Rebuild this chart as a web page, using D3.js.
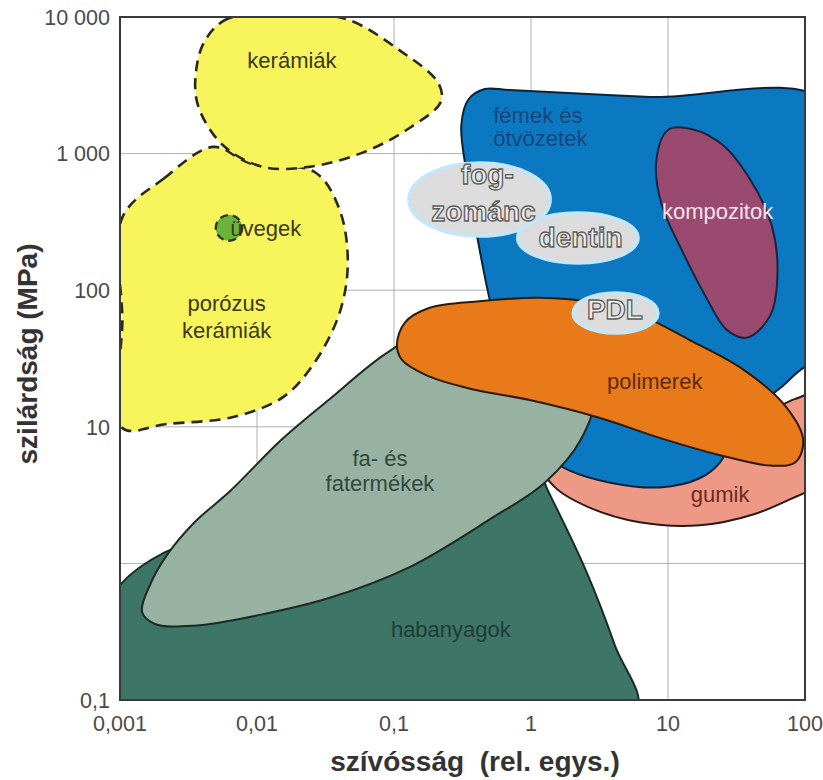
<!DOCTYPE html>
<html>
<head>
<meta charset="utf-8">
<script src="https://cdn.jsdelivr.net/npm/d3@7"></script>
<style>
  body { margin: 0; background: #fff; }
  svg { display: block; }
  text { font-family: "Liberation Sans", Arial, sans-serif; }
</style>
</head>
<body>
<div id="chart"></div>
<script>
//// Ashby-style map: strength vs toughness, log-log
//// every outline is a list of [toughness, strength (MPa)]

const xTicks = [0.001, 0.01, 0.1, 1, 10, 100];
const xTickLabels = ["0,001", "0,01", "0,1", "1", "10", "100"];
const yTicks = [10000, 1000, 100, 10, 0.1];
const yTickLabels = ["10 000", "1 000", "100", "10", "0,1"];
const gridX = [0.01, 0.1, 1, 10];
const gridY = [1000, 100, 10, 1];

const habanyagok = [[0.00085, 0.085], [0.00085, 0.54], [0.0021, 1.2], [0.0054, 1.5], [0.021, 2.9],
  [0.26, 8], [1.07, 5.2], [1.33, 3.4], [2.5, 0.9], [4.1, 0.25], [5.8, 0.082]];
const gumik = [[1.16, 5.5], [1.5, 3.6], [2.7, 2.55], [6.2, 2.0], [17, 1.9], [43, 2.3], [100, 3.3],
  [150, 3.9], [150, 18], [85, 16], [47, 12], [14.5, 8], [3.8, 6.5], [1.6, 7.4]];
const femek = [[0.31, 1620], [0.35, 2500], [0.46, 2970], [0.7, 2920], [7.4, 2600], [150, 2300],
  [150, 30], [100, 27.4], [66, 19.2], [34, 11.2], [24, 5.5], [17, 4.2], [8.7, 3.6], [3.8, 3.9],
  [1.9, 4.8], [1.26, 6.2], [0.9, 11], [0.65, 31], [0.5, 85], [0.41, 230], [0.34, 700]];
const fa = [[0.00145, 0.44], [0.00166, 0.7], [0.0022, 1.15], [0.0035, 2.0], [0.0064, 3.4], [0.015, 8],
  [0.034, 16], [0.086, 34], [0.18, 51], [0.6, 55], [1.9, 34], [2.9, 17], [2.3, 8], [1.26, 3.9],
  [0.5, 2.1], [0.13, 0.94], [0.034, 0.56], [0.0105, 0.42], [0.0035, 0.35], [0.0018, 0.36]];
const kompozitok = [[10, 1490], [15, 1510], [25, 1160], [40, 640], [57, 300], [63, 140], [56, 66],
  [38, 45], [27, 51], [18.6, 92], [12.6, 197], [9, 420], [8.2, 870]];
const polimerek = [[0.105, 40], [0.12, 58], [0.18, 74], [0.42, 83], [1.16, 88], [2.7, 82], [6.2, 66],
  [14.5, 43], [34, 27], [71, 14.4], [97, 8], [85, 5.5], [56, 5.2], [24, 6.2], [8.7, 8.3],
  [3.2, 11.6], [0.98, 15.7], [0.36, 19], [0.17, 24], [0.114, 31]];
const porozus = [[0.00104, 340], [0.0021, 660], [0.0048, 1120], [0.0089, 850], [0.0265, 730],
  [0.04, 390], [0.046, 158], [0.04, 68], [0.026, 29], [0.0155, 16.5], [0.0067, 11.8],
  [0.0022, 10.5], [0.00104, 9.8], [0.00104, 60]];
const keramiak = [[0.0042, 6800], [0.0061, 9700], [0.016, 10200], [0.044, 9700], [0.11, 5700],
  [0.21, 3300], [0.22, 2400], [0.13, 1540], [0.061, 1030], [0.024, 800], [0.011, 800],
  [0.0056, 1160], [0.0037, 2270], [0.0036, 4100]];

// ellipses given by their toughness range and strength range
const uvegek = { x: [0.005, 0.0078], y: [230, 355] };
const fogzomanc = { x: [0.1285, 1.38], y: [249, 853] };
const dentin = { x: [0.8, 6.04], y: [158, 367] };
const pdl = { x: [2.03, 8.45], y: [48.6, 95.5] };

const regionLabels = [
  { lines: ["kerámiák"], x: 0.018, y: [4240], c: "#3b3a1e" },
  { lines: ["üvegek"], x: 0.0116, y: [250], c: "#3b3a1e" },
  { lines: ["porózus", "kerámiák"], x: 0.006, y: [70, 45], c: "#3b3a1e" },
  { lines: ["fémek és", "ötvözetek"], x: 0.53, y: [1680, 1140], c: "#17467a", anchor: "start" },
  { lines: ["kompozitok"], x: 23, y: [330], c: "#f4e2ec" },
  { lines: ["polimerek"], x: 8, y: [19], c: "#5a2c0c" },
  { lines: ["gumik"], x: 24, y: [2.8], c: "#6b2b22" },
  { lines: ["fa- és", "fatermékek"], x: 0.079, y: [5.2, 3.4], c: "#2e4a3f" },
  { lines: ["habanyagok"], x: 0.26, y: [0.29], c: "#1f3d35" }
];
const toothLabels = [
  { t: "fog-", x: 0.48, y: 600 },
  { t: "zománc", x: 0.45, y: 320 },
  { t: "dentin", x: 2.3, y: 207 },
  { t: "PDL", x: 4.1, y: 62 }
];

const width = 823, height = 780;
const plot = { left: 120, right: 805, top: 17, bottom: 700 };

const svg = d3.select("#chart").append("svg")
  .attr("width", width)
  .attr("height", height);

const x = d3.scaleLog().domain([0.001, 100]).range([plot.left, plot.right]);
const y = d3.scaleLog().domain([0.1, 10000]).range([plot.bottom, plot.top]);

svg.append("clipPath").attr("id", "plotclip")
  .append("rect")
  .attr("x", plot.left).attr("y", plot.top)
  .attr("width", plot.right - plot.left).attr("height", plot.bottom - plot.top);

//// grid
const grid = svg.append("g").attr("stroke", "#b0b0b0").attr("stroke-width", 1);
grid.selectAll(".gx").data(gridX).join("line")
  .attr("x1", d => x(d)).attr("x2", d => x(d))
  .attr("y1", plot.top).attr("y2", plot.bottom);
grid.selectAll(".gy").data(gridY).join("line")
  .attr("y1", d => y(d)).attr("y2", d => y(d))
  .attr("x1", plot.left).attr("x2", plot.right);

//// regions
const outline = d3.line()
  .x(d => x(d[0]))
  .y(d => y(d[1]))
  .curve(d3.curveCatmullRomClosed.alpha(0.5));

const regions = [
  { pts: habanyagok, fill: "#3d7566", stroke: "#1a2a26" },
  { pts: gumik, fill: "#ee9985", stroke: "#2a1a1a" },
  { pts: femek, fill: "#0b78c2", stroke: "#0d2238" },
  { pts: fa, fill: "#98b2a1", stroke: "#1b2a24" },
  { pts: kompozitok, fill: "#9a4a6f", stroke: "#1b2440" },
  { pts: polimerek, fill: "#e97a1a", stroke: "#2c1a0c" },
  { pts: porozus, fill: "#f8f45c", stroke: "#2a2a1c", dash: "11,7" },
  { pts: keramiak, fill: "#f8f45c", stroke: "#2a2a1c", dash: "11,7" }
];

const g = svg.append("g").attr("clip-path", "url(#plotclip)");

g.selectAll("path.region").data(regions).join("path")
  .attr("class", "region")
  .attr("d", d => outline(d.pts))
  .attr("fill", d => d.fill)
  .attr("stroke", d => d.stroke)
  .attr("stroke-width", d => d.dash ? 2.6 : 2)
  .attr("stroke-dasharray", d => d.dash || null);

const ell = e => ({
  cx: (x(e.x[0]) + x(e.x[1])) / 2,
  cy: (y(e.y[0]) + y(e.y[1])) / 2,
  rx: Math.abs(x(e.x[1]) - x(e.x[0])) / 2,
  ry: Math.abs(y(e.y[1]) - y(e.y[0])) / 2
});

const uv = ell(uvegek);
g.append("ellipse")
  .attr("cx", uv.cx).attr("cy", uv.cy).attr("rx", uv.rx).attr("ry", uv.ry)
  .attr("fill", "#6bb23c").attr("stroke", "#2a3a1c")
  .attr("stroke-width", 2.4).attr("stroke-dasharray", "8,5");

// tooth tissues
g.selectAll("ellipse.tooth").data([fogzomanc, dentin, pdl].map(ell)).join("ellipse")
  .attr("class", "tooth")
  .attr("cx", d => d.cx).attr("cy", d => d.cy)
  .attr("rx", d => d.rx).attr("ry", d => d.ry)
  .attr("fill", "#dcdcdc")
  .attr("stroke", "#c3e7f8")
  .attr("stroke-width", 3.5);

//// labels
regionLabels.forEach(l => {
  l.lines.forEach((t, i) => {
    svg.append("text")
      .attr("x", x(l.x))
      .attr("y", y(l.y[i]))
      .attr("text-anchor", l.anchor || "middle")
      .attr("fill", l.c)
      .style("font-size", "22px")
      .text(t);
  });
});

svg.selectAll("text.tooth").data(toothLabels).join("text")
  .attr("class", "tooth")
  .attr("x", d => x(d.x))
  .attr("y", d => y(d.y))
  .attr("text-anchor", "middle")
  .attr("fill", "#ececec")
  .attr("stroke", "#5d5d5d")
  .attr("stroke-width", 1.3)
  .style("font-size", "28px")
  .style("font-weight", "bold")
  .text(d => d.t);

//// frame
svg.append("rect")
  .attr("x", plot.left).attr("y", plot.top)
  .attr("width", plot.right - plot.left).attr("height", plot.bottom - plot.top)
  .attr("fill", "none")
  .attr("stroke", "#3a3a3a")
  .attr("stroke-width", 2);

//// tick labels
svg.selectAll("text.xt").data(xTicks).join("text")
  .attr("class", "xt")
  .attr("x", d => x(d))
  .attr("y", 731)
  .attr("text-anchor", "middle")
  .attr("fill", "#4a4a4a")
  .style("font-size", "21.5px")
  .text((d, i) => xTickLabels[i]);

svg.selectAll("text.yt").data(yTicks).join("text")
  .attr("class", "yt")
  .attr("x", 110)
  .attr("y", d => y(d))
  .attr("dy", "0.36em")
  .attr("text-anchor", "end")
  .attr("fill", "#4a4a4a")
  .style("font-size", "21.5px")
  .text((d, i) => yTickLabels[i]);

//// axis titles
svg.append("text")
  .attr("x", 475)
  .attr("y", 771)
  .attr("text-anchor", "middle")
  .attr("fill", "#333")
  .style("font-size", "28px")
  .style("font-weight", "bold")
  .style("white-space", "pre")
  .text("szívósság  (rel. egys.)");

svg.append("text")
  .attr("transform", "translate(37,354) rotate(-90)")
  .attr("text-anchor", "middle")
  .attr("fill", "#333")
  .style("font-size", "28px")
  .style("font-weight", "bold")
  .text("szilárdság (MPa)");
</script>
</body>
</html>
